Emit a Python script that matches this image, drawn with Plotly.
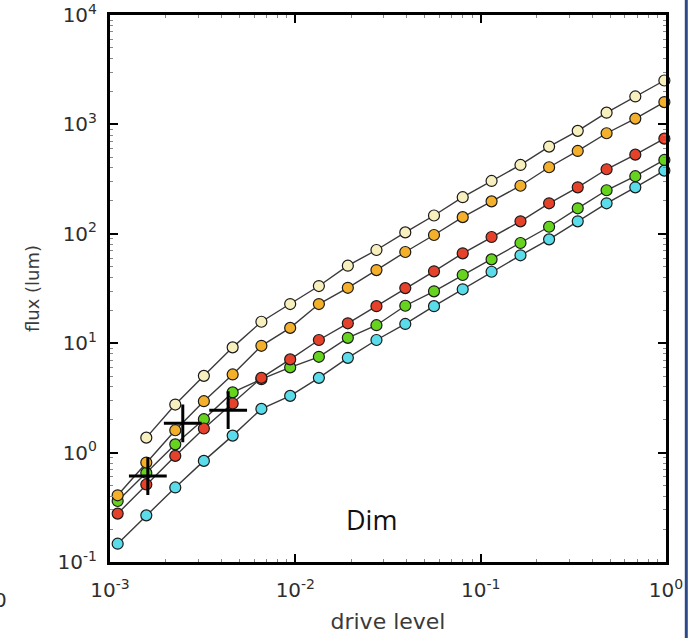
import plotly.graph_objects as go

drive = [0.0011, 0.00157, 0.00225, 0.00321, 0.00459, 0.00656, 0.00938, 0.0134,
         0.0192, 0.0274, 0.0392, 0.056, 0.080, 0.1145, 0.164, 0.234, 0.334,
         0.478, 0.683, 0.98]

cyan = [0.147, 0.267, 0.48, 0.84, 1.43, 2.51, 3.30, 4.82, 7.35, 10.7, 15.0,
        21.8, 31.1, 45, 63.6, 89, 130, 190, 266, 378]
green = [0.361, 0.652, 1.19, 2.02, 3.55, 4.69, 6.01, 7.51, 11.2, 14.6, 22.0,
         29.8, 42.0, 58.4, 82.4, 116, 171, 250, 336, 473]
red = [0.277, 0.511, 0.933, 1.66, 2.81, 4.82, 7.11, 10.7, 15.2, 21.8, 31.9,
       45.4, 66.3, 93.5, 130, 190, 266, 389, 529, 741]
orange = [0.407, 0.811, 1.60, 2.95, 5.18, 9.47, 13.8, 22.8, 32.1, 46.6, 68.2,
          97.5, 142, 198, 275, 406, 572, 830, 1130, 1600]
cream = [None, 1.37, 2.75, 5.03, 9.16, 15.7, 22.8, 33.3, 51.1, 71.1, 103, 147,
         216, 304, 426, 627, 873, 1280, 1800, 2520]

cross_x = [0.0016, 0.00247, 0.00434]
cross_y = [0.61, 1.85, 2.44]

x_tickvals = [0.001, 0.01, 0.1, 1]
x_ticktext = ["10<sup>-3</sup>", "10<sup>-2</sup>", "10<sup>-1</sup>", "10<sup>0</sup>"]
y_tickvals = [0.1, 1, 10, 100, 1000, 10000]
y_ticktext = ["10<sup>-1</sup>", "10<sup>0</sup>", "10<sup>1</sup>", "10<sup>2</sup>",
              "10<sup>3</sup>", "10<sup>4</sup>"]

series = [
    ("cyan", cyan, "#5ADCEB"),
    ("green", green, "#66D41E"),
    ("red", red, "#E5412B"),
    ("orange", orange, "#F4B02A"),
    ("cream", cream, "#F7F0BE"),
]

def minor_positions(decades):
    return [m * 10.0 ** d for d in decades for m in range(2, 10)]

fig = go.Figure()
for name, vals, col in series:
    fig.add_trace(go.Scatter(
        x=drive, y=vals, name=name, mode="lines+markers",
        line=dict(color="#3a3a3a", width=1.4),
        marker=dict(size=11, color=col, line=dict(color="#1a1a1a", width=1.2)),
        connectgaps=False, showlegend=False, cliponaxis=False,
    ))

fig.add_trace(go.Scatter(
    x=cross_x, y=cross_y, mode="markers", showlegend=False,
    marker=dict(symbol="cross-thin", size=27, color="black",
                line=dict(color="black", width=3)),
))

axis_font = dict(family="DejaVu Sans", size=20, color="#2e2e2e")
fig.update_xaxes(
    type="log", range=[-3, 0], tickvals=x_tickvals, ticktext=x_ticktext,
    ticks="inside", ticklen=8, tickwidth=2, tickcolor="black",
    minor=dict(ticks="inside", ticklen=3, tickwidth=1, tickcolor="#888888",
               tickvals=minor_positions([-3, -2, -1]), showgrid=False),
    showline=True, linewidth=3, linecolor="black", mirror="ticks",
    showgrid=False, zeroline=False, tickfont=axis_font, automargin=False,
    ticklabelstandoff=8,
    title=dict(text="drive level", font=dict(family="DejaVu Sans", size=22, color="#3a3a3a"),
               standoff=13),
)
fig.update_yaxes(
    type="log", range=[-1, 4], tickvals=y_tickvals, ticktext=y_ticktext,
    ticks="inside", ticklen=8, tickwidth=2, tickcolor="black",
    minor=dict(ticks="inside", ticklen=3, tickwidth=1, tickcolor="#888888",
               tickvals=minor_positions([-1, 0, 1, 2, 3]), showgrid=False),
    showline=True, linewidth=3, linecolor="black", mirror="ticks",
    showgrid=False, zeroline=False, tickfont=axis_font, automargin=False,
    ticklabelstandoff=6,
    title=dict(text="flux (lum)", font=dict(family="DejaVu Sans", size=18, color="#3a3a3a"),
               standoff=14),
)

fig.add_annotation(x=0.471, y=0.0786, xref="paper", yref="paper", text="Dim",
                   xanchor="center", yanchor="middle",
                   showarrow=False, font=dict(family="Open Sans", size=27, color="#111111"))
fig.add_annotation(x=-0.1817, y=-0.0695, xref="paper", yref="paper", text="0",
                   xanchor="right", yanchor="middle", showarrow=False,
                   font=dict(family="DejaVu Sans", size=20, color="#2e2e2e"))
fig.add_shape(type="line", xref="paper", yref="paper", x0=1.0365, x1=1.0365, y0=-0.2, y1=1.05,
              line=dict(color="#2B4A8A", width=3))

fig.update_layout(
    width=691, height=638,
    margin=dict(l=110, r=25, t=15, b=76),
    paper_bgcolor="white", plot_bgcolor="white",
)

fig.write_html("out.html", config={"displayModeBar": False},
               post_script="document.body.style.margin='0';")
